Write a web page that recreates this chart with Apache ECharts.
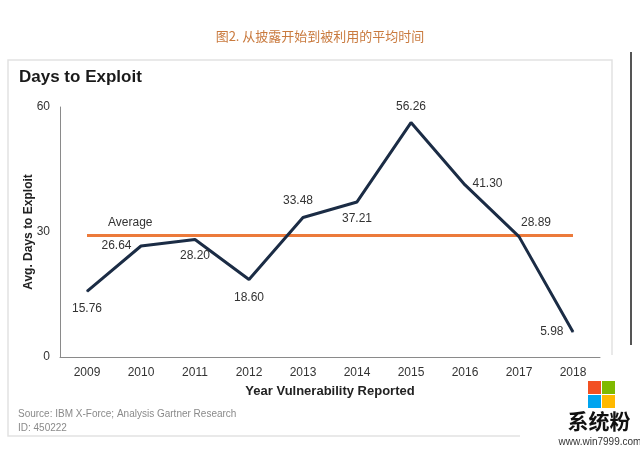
<!DOCTYPE html>
<html>
<head>
<meta charset="utf-8">
<script src="https://cdn.jsdelivr.net/npm/echarts@6/dist/echarts.min.js"></script>
<style>
html,body{margin:0;padding:0;background:#fff;}
#main{width:640px;height:454px;}
</style>
</head>
<body>
<div id="main"></div>
<script>
// ---- data ----
const years = ['2009','2010','2011','2012','2013','2014','2015','2016','2017','2018'];
const daysToExploit = [15.76, 26.64, 28.20, 18.60, 33.48, 37.21, 56.26, 41.30, 28.89, 5.98];
const averageDays = [29.23];
const yTicks = [0, 30, 60];

const topTitle = '图2. 从披露开始到被利用的平均时间';
const chartTitle = 'Days to Exploit';
const sourceLines = ['Source: IBM X-Force; Analysis Gartner Research', 'ID: 450222'];

// ---- label placement (style only) ----
const labelPlace = [
  {position:'bottom', distance:11},
  {position:'left', distance:9},
  {position:'bottom', distance:10},
  {position:'bottom', distance:12},
  {position:'top', distance:10, offset:[-5,0]},
  {position:'bottom', distance:10},
  {position:'top', distance:9},
  {position:'right', distance:7, offset:[0,-1]},
  {position:'top', distance:7, offset:[17,0]},
  {position:'left', distance:9}
];

const FONT = '"Liberation Sans", Arial, sans-serif';
const chart = echarts.init(document.getElementById('main'), null, {renderer:'canvas'});

const lineData = daysToExploit.map((v, i) => ({
  value: v,
  label: Object.assign({show:true}, labelPlace[i])
}));

chart.setOption({
  backgroundColor: '#ffffff',
  animation: false,
  textStyle: {fontFamily: FONT},
  grid: {left: 60, top: 107, width: 540, height: 250, containLabel: false},
  xAxis: {
    type: 'category',
    data: years,
    boundaryGap: true,
    axisLine: {show: true, lineStyle: {color: '#8a8a8a', width: 1}},
    axisTick: {show: false},
    axisLabel: {color: '#333', fontSize: 12, margin: 10, fontFamily: FONT},
    name: 'Year Vulnerability Reported',
    nameLocation: 'middle',
    nameGap: 28,
    nameMoveOverlap: false,
    nameTextStyle: {color: '#222', fontSize: 13, fontWeight: 'bold', fontFamily: FONT}
  },
  yAxis: {
    type: 'value',
    min: yTicks[0],
    max: yTicks[yTicks.length - 1],
    interval: yTicks[1] - yTicks[0],
    splitLine: {show: false},
    axisLine: {show: true, lineStyle: {color: '#8a8a8a', width: 1}},
    axisTick: {show: false},
    axisLabel: {color: '#333', fontSize: 12, margin: 10, fontFamily: FONT},
    name: 'Avg. Days to Exploit',
    nameLocation: 'middle',
    nameGap: 25,
    nameRotate: 90,
    nameMoveOverlap: false,
    nameTextStyle: {color: '#222', fontSize: 12, fontWeight: 'bold', fontFamily: FONT}
  },
  series: [{
    type: 'line',
    data: lineData,
    symbol: 'circle',
    symbolSize: 1,
    showSymbol: true,
    itemStyle: {color: '#1b2c45'},
    lineStyle: {color: '#1b2c45', width: 3},
    label: {color: '#333', fontSize: 12, fontFamily: FONT, formatter: p => Number(p.value).toFixed(2)},
    z: 3,
    markLine: {
      silent: true,
      symbol: ['none','none'],
      z: 2,
      lineStyle: {color: '#ec7a3b', width: 3, type: 'solid'},
      label: {show: false},
      data: [[
        {coord: [years[0], averageDays[0]]},
        {coord: [years[years.length-1], averageDays[0]]}
      ]]
    }
  }],
  graphic: [
    {type:'text', left:'center', top:30, style:{text: topTitle, fill:'#c97a3e', font:'13px "Noto Sans CJK SC", sans-serif'}},
    {type:'polyline', shape:{points:[[520,436],[8,436],[8,60],[612,60],[612,355]]}, style:{stroke:'#e2e2e2', lineWidth:1.5, fill:null}},
    {type:'line', shape:{x1:631, y1:52, x2:631, y2:345}, style:{stroke:'#555', lineWidth:2}},
    {type:'text', left:19, top:69, style:{text: chartTitle, fill:'#1a1a1a', font:'bold 17px "Liberation Sans", Arial, sans-serif'}},
    {type:'text', left:108, top:217, style:{text:'Average', fill:'#333', font:'12px "Liberation Sans", Arial, sans-serif'}},
    {type:'text', left:18, top:409, style:{text: sourceLines[0], fill:'#8a8a8a', font:'10px "Liberation Sans", Arial, sans-serif'}},
    {type:'text', left:18, top:423, style:{text: sourceLines[1], fill:'#8a8a8a', font:'10px "Liberation Sans", Arial, sans-serif'}},
    // watermark
    {type:'rect', shape:{x:588, y:381, width:13, height:13}, style:{fill:'#f25022'}},
    {type:'rect', shape:{x:602, y:381, width:13, height:13}, style:{fill:'#7fba00'}},
    {type:'rect', shape:{x:588, y:395, width:13, height:13}, style:{fill:'#00a4ef'}},
    {type:'rect', shape:{x:602, y:395, width:13, height:13}, style:{fill:'#ffb900'}},
    {type:'text', x:599, y:421, style:{text:'系统粉', fill:'#111', font:'bold 21px "Noto Sans CJK SC", sans-serif', textAlign:'center', textVerticalAlign:'middle'}},
    {type:'text', x:600, y:442, style:{text:'www.win7999.com', fill:'#333', font:'10px "Liberation Sans", Arial, sans-serif', textAlign:'center', textVerticalAlign:'middle'}}
  ]
});
</script>
</body>
</html>
